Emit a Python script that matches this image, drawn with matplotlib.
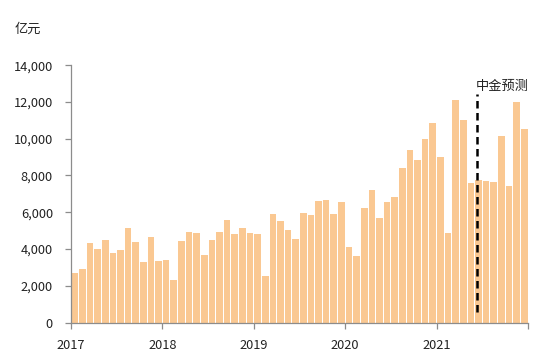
import numpy as np
from matplotlib import pyplot as plt

plt.rcParams['font.family'] = ['Noto Sans CJK SC', 'DejaVu Sans']

# monthly values, 2017-01 .. 2021-12 (亿元)
values_2017 = [2690, 2920, 4340, 4020, 4470, 3800, 3920, 5140, 4380, 3320, 4630, 3360]
values_2018 = [3420, 2290, 4450, 4900, 4850, 3670, 4500, 4900, 5560, 4830, 5120, 4880]
values_2019 = [4840, 2550, 5900, 5540, 5030, 4560, 5950, 5850, 6610, 6640, 5880, 6540]
values_2020 = [4090, 3630, 6210, 7220, 5700, 6570, 6840, 8380, 9380, 8840, 9960, 10830]
values_2021 = [8980, 4850, 12100, 11010, 7570, 7750, 7690, 7660, 10140, 7440, 11970, 10520]
year_labels = ['2017', '2018', '2019', '2020', '2021', '']
forecast_pos = 52.8   # start of the CICC forecast
forecast_text = '中金预测'

values = values_2017 + values_2018 + values_2019 + values_2020 + values_2021
x = np.arange(len(values))

fig = plt.figure(figsize=(5.5, 3.6), dpi=100)
ax = fig.add_axes([0.129, 0.104, 0.831, 0.715])

ax.bar(x, values, width=0.87, color='#FAC892')

ax.set_xlim(-0.5, len(values) - 0.5)
ax.set_ylim(0, 14000)
ax.set_yticks(np.arange(0, 14001, 2000))
ax.set_yticklabels(['{:,}'.format(v) for v in range(0, 14001, 2000)])
ax.set_xticks(np.arange(-0.5, len(values), 12))
ax.set_xticklabels(year_labels)

for s in ['top', 'right']:
    ax.spines[s].set_visible(False)
for s in ['left', 'bottom']:
    ax.spines[s].set_color('#8c8c8c')
    ax.spines[s].set_linewidth(0.9)
ax.tick_params(axis='both', colors='#8c8c8c', labelcolor='#222222',
               labelsize=9.2, length=4, width=0.9)
ax.tick_params(axis='x', pad=8)
ax.tick_params(axis='y', pad=9)

# forecast marker
ax.plot([forecast_pos, forecast_pos], [580, 12450], color='black',
        linestyle=(0, (3, 1.8)), linewidth=1.8)
ax.text(forecast_pos - 0.2, 12830, forecast_text, fontsize=9.5,
        color='#222222', ha='left', va='center')

fig.text(0.027, 0.92, '亿元', fontsize=9.5, color='#222222', ha='left', va='center')

fig.savefig('out.png', dpi=100)
